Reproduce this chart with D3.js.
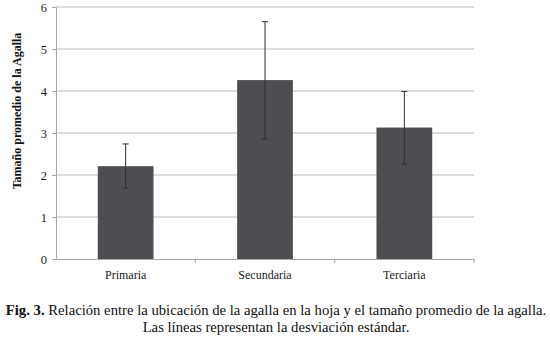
<!DOCTYPE html>
<html>
<head>
<meta charset="utf-8">
<script src="https://cdn.jsdelivr.net/npm/d3@7"></script>
<style>
  body { margin: 0; background: #fff; }
  text { font-family: "Liberation Serif", "Times New Roman", "DejaVu Serif", serif; }
</style>
</head>
<body>
<div id="chart"></div>
<script>
var categories = ["Primaria", "Secundaria", "Terciaria"];
var means = [2.21, 4.26, 3.13];
var sdUpper = [2.74, 5.65, 3.99];
var sdLower = [1.69, 2.86, 2.26];
var yTicks = [0, 1, 2, 3, 4, 5, 6];

var serif = "'Liberation Serif', 'Times New Roman', 'DejaVu Serif', serif";
var margin = { top: 7, right: 76, bottom: 87, left: 56 };
var width = 550 - margin.left - margin.right;
var height = 346 - margin.top - margin.bottom;

var root = d3.select("#chart")
    .append("svg")
    .attr("width", 550)
    .attr("height", 346);
var svg = root.append("g")
    .attr("transform", "translate(" + margin.left + "," + margin.top + ")");

var x = d3.scaleBand().domain(categories).range([0, width]).paddingInner(0.6).paddingOuter(0.3);
var xBound = d3.scaleBand().domain(categories).range([0, width]).padding(0);
var y = d3.scaleLinear().domain([0, 6]).range([height, 0]);

// gridlines
svg.selectAll(".grid")
    .data(yTicks.slice(1))
    .enter().append("line")
    .attr("class", "grid")
    .attr("x1", 0)
    .attr("x2", width)
    .attr("y1", d => y(d))
    .attr("y2", d => y(d))
    .attr("stroke", "#bdbdbd")
    .attr("stroke-width", 1);

// y axis
var yAxis = svg.append("g")
    .call(d3.axisLeft(y).tickValues(yTicks).tickFormat(d3.format("d")).tickSize(4).tickPadding(5));
yAxis.attr("font-family", serif).attr("font-size", 12.5);
yAxis.select(".domain").attr("stroke", "#a8a8a8");
yAxis.selectAll(".tick line").attr("stroke", "#a8a8a8");
yAxis.selectAll("text").attr("fill", "#1a1a1a");

// x axis
var xAxis = svg.append("g")
    .attr("transform", "translate(0," + height + ")")
    .call(d3.axisBottom(x).tickSize(0).tickPadding(11));
xAxis.attr("font-family", serif).attr("font-size", 12);
xAxis.select(".domain").attr("stroke", "#a8a8a8");
xAxis.selectAll("text").attr("fill", "#1a1a1a");

// category boundary ticks
svg.selectAll(".xb")
    .data(categories)
    .enter().append("line")
    .attr("class", "xb")
    .attr("x1", d => xBound(d) + xBound.bandwidth())
    .attr("x2", d => xBound(d) + xBound.bandwidth())
    .attr("y1", height)
    .attr("y2", height + 4)
    .attr("stroke", "#a8a8a8");

// bars
svg.selectAll(".bar")
    .data(categories)
    .enter().append("rect")
    .attr("class", "bar")
    .attr("x", d => x(d))
    .attr("width", x.bandwidth())
    .attr("y", (d, i) => y(means[i]))
    .attr("height", (d, i) => height - y(means[i]))
    .attr("fill", "#4c4e51");

// error bars
var err = svg.selectAll(".err")
    .data(categories)
    .enter().append("g")
    .attr("class", "err")
    .attr("stroke", "#2e2e2e")
    .attr("stroke-width", 1);
err.append("line")
    .attr("x1", d => x(d) + x.bandwidth() / 2)
    .attr("x2", d => x(d) + x.bandwidth() / 2)
    .attr("y1", (d, i) => y(sdUpper[i]))
    .attr("y2", (d, i) => y(sdLower[i]));
err.append("line")
    .attr("x1", d => x(d) + x.bandwidth() / 2 - 3)
    .attr("x2", d => x(d) + x.bandwidth() / 2 + 3)
    .attr("y1", (d, i) => y(sdUpper[i]))
    .attr("y2", (d, i) => y(sdUpper[i]));
err.append("line")
    .attr("x1", d => x(d) + x.bandwidth() / 2 - 3)
    .attr("x2", d => x(d) + x.bandwidth() / 2 + 3)
    .attr("y1", (d, i) => y(sdLower[i]))
    .attr("y2", (d, i) => y(sdLower[i]));

// y axis title
svg.append("text")
    .attr("transform", "translate(-35," + 104 + ") rotate(-90)")
    .attr("text-anchor", "middle")
    .attr("font-family", serif)
    .attr("font-size", 12)
    .attr("font-weight", "bold")
    .attr("fill", "#111")
    .text("Tamaño promedio de la Agalla");

// caption
var line1 = root.append("text")
    .attr("x", 276)
    .attr("y", 315)
    .attr("text-anchor", "middle")
    .attr("font-family", serif)
    .attr("font-size", 14.7)
    .attr("fill", "#111");
line1.append("tspan").attr("font-weight", "bold").text("Fig. 3.");
line1.append("tspan").text(" Relación entre la ubicación de la agalla en la hoja y el tamaño promedio de la agalla.");
root.append("text")
    .attr("x", 276)
    .attr("y", 332)
    .attr("text-anchor", "middle")
    .attr("font-family", serif)
    .attr("font-size", 14.7)
    .attr("fill", "#111")
    .text("Las líneas representan la desviación estándar.");
</script>
</body>
</html>
